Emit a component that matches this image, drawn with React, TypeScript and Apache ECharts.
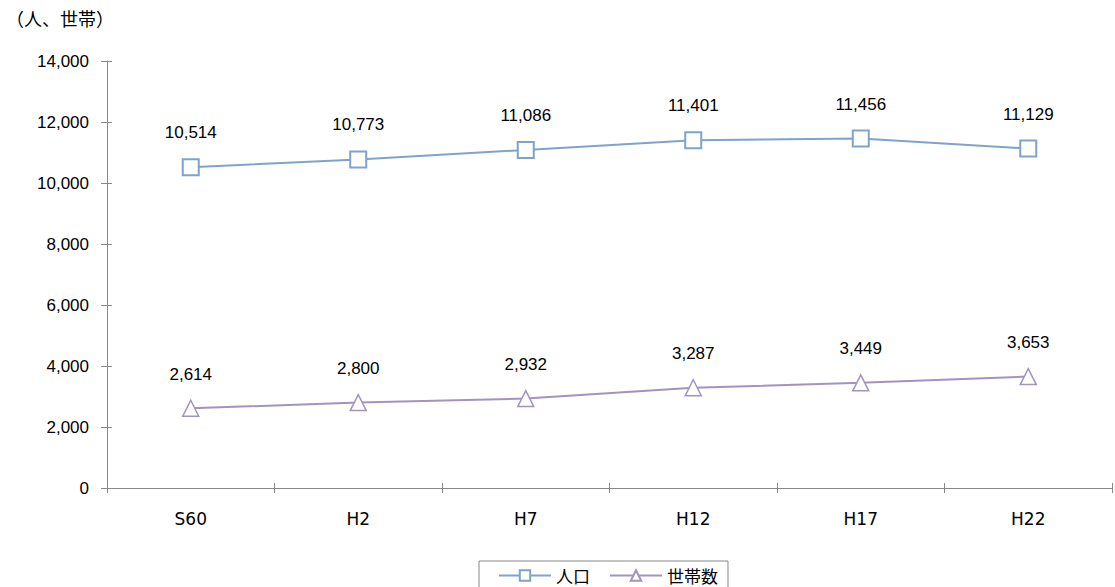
import React, { useEffect, useRef } from "react";
import * as echarts from "echarts";

const categories = ["S60", "H2", "H7", "H12", "H17", "H22"];
const population = [10514, 10773, 11086, 11401, 11456, 11129];
const households = [2614, 2800, 2932, 3287, 3449, 3653];
const yTicks = { min: 0, max: 14000, interval: 2000 };

export default function App() {
  const ref = useRef<HTMLDivElement>(null);
  useEffect(() => {
    if (!ref.current) return;
    const chart = echarts.init(ref.current, undefined, { renderer: "svg" });
    const cjk = "'Noto Sans CJK JP', 'Noto Sans', sans-serif";
    const num = "'Liberation Sans', Arial, sans-serif";
    const axisLine = { show: true, lineStyle: { color: "#888", width: 1 } };
    const fmt = (p: any) => Number(p.value).toLocaleString("en-US");
    chart.setOption({
      animation: false,
      textStyle: { fontFamily: num },
      graphic: [
        {
          type: "text",
          left: 6,
          top: 9,
          style: { text: "（人、世帯）", fontSize: 18, fill: "#000", fontFamily: cjk },
        },
      ],
      grid: { left: 107, right: 3, top: 61, bottom: 99, containLabel: false },
      legend: {
        top: 561,
        left: 479,
        itemGap: 19,
        itemWidth: 52,
        itemHeight: 13,
        padding: [6, 10, 20, 19],
        borderColor: "#888",
        borderWidth: 1,
        borderRadius: 0,
        textStyle: { fontSize: 17, color: "#000", fontFamily: cjk, lineHeight: 17 },
        data: ["人口", "世帯数"],
      },
      xAxis: [
        {
          type: "category",
          data: categories,
          boundaryGap: true,
          axisLine,
          axisTick: { show: true, length: 5, lineStyle: { color: "#888" } },
          axisLabel: { fontSize: 17, color: "#000", margin: 22, fontFamily: "'DejaVu Sans', sans-serif" },
        },
        {
          type: "category",
          data: categories,
          position: "bottom",
          boundaryGap: true,
          axisLine: { show: false },
          axisTick: { show: true, inside: true, length: 5, lineStyle: { color: "#888" } },
          axisLabel: { show: false },
        },
      ],
      yAxis: [
        {
          type: "value",
          min: yTicks.min,
          max: yTicks.max,
          interval: yTicks.interval,
          axisLine,
          axisTick: { show: true, length: 6, lineStyle: { color: "#888" } },
          splitLine: { show: false },
          axisLabel: {
            fontSize: 17,
            color: "#000",
            margin: 18,
            formatter: (v: number) => v.toLocaleString("en-US"),
          },
        },
        {
          type: "value",
          min: yTicks.min,
          max: yTicks.max,
          interval: yTicks.interval,
          position: "left",
          axisLine: { show: false },
          axisTick: { show: true, inside: true, length: 5, lineStyle: { color: "#888" } },
          splitLine: { show: false },
          axisLabel: { show: false },
        },
      ],
      series: [
        {
          name: "人口",
          type: "line",
          data: population,
          symbol: "rect",
          symbolSize: 16,
          lineStyle: { color: "#7fa3cc", width: 2 },
          itemStyle: { color: "#fff", borderColor: "#7fa3cc", borderWidth: 2 },
          label: { show: true, position: "top", distance: 17, fontSize: 17, color: "#000", formatter: fmt },
        },
        {
          name: "世帯数",
          type: "line",
          data: households,
          symbol: "triangle",
          symbolSize: 16,
          lineStyle: { color: "#a393bf", width: 2 },
          itemStyle: { color: "#fff", borderColor: "#a393bf", borderWidth: 1.5 },
          label: { show: true, position: "top", distance: 17, fontSize: 17, color: "#000", formatter: fmt },
        },
      ],
    });
    return () => chart.dispose();
  }, []);
  return <div ref={ref} style={{ width: 1115, height: 587, position: "absolute", left: 0, top: 0 }} />;
}
